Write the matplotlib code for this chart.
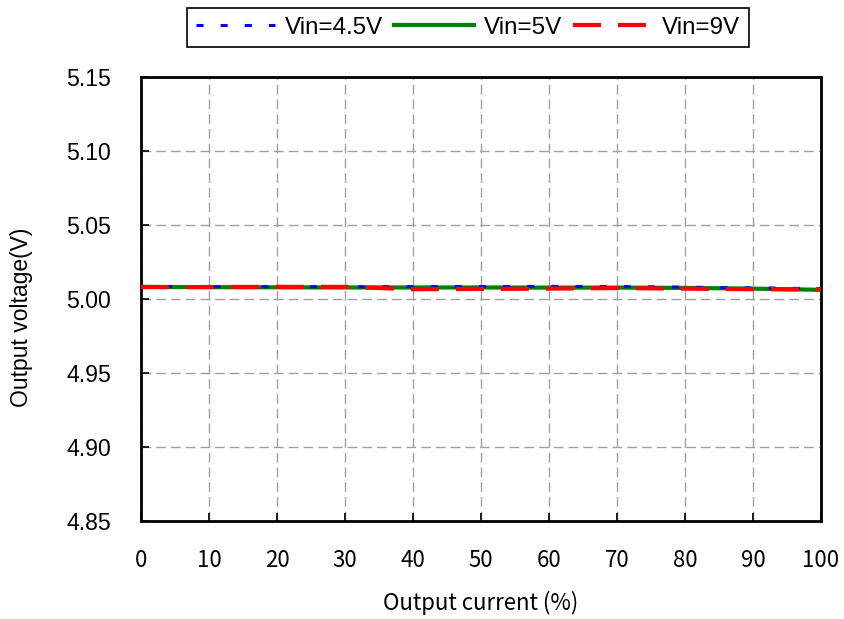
import matplotlib
matplotlib.use("Agg")
import matplotlib.pyplot as plt

gothic = ["Noto Sans CJK JP", "DejaVu Sans"]

current = [0, 10, 20, 30, 40, 50, 60, 70, 80, 90, 100]
v45 = [5.0083, 5.0083, 5.0083, 5.0082, 5.0083, 5.0084, 5.0085, 5.0084, 5.0080, 5.0075, 5.0070]
v5 = [5.0082, 5.0080, 5.0079, 5.0078, 5.0078, 5.0078, 5.0077, 5.0077, 5.0075, 5.0070, 5.0062]
v9 = [5.0080, 5.0081, 5.0082, 5.0082, 5.0066, 5.0068, 5.0070, 5.0074, 5.0070, 5.0066, 5.0065]

xticks = [0, 10, 20, 30, 40, 50, 60, 70, 80, 90, 100]
yticks = [4.85, 4.90, 4.95, 5.00, 5.05, 5.10, 5.15]

fig = plt.figure(figsize=(8.45, 6.19), dpi=100)
ax = fig.add_axes([141/845, 1-521/619, 680/845, 444/619])

ax.plot(current, v5, color="#008000", lw=3, linestyle="-", label="Vin=5V", zorder=2)
ax.plot(current, v45, color="#0000ff", lw=2.2, linestyle=(0, (2.3, 5.6)), label="Vin=4.5V", zorder=3)
ax.plot(current, v9, color="#ff0000", lw=3, linestyle=(0, (6.7, 4.1)), label="Vin=9V", zorder=4)

ax.set_xlim(0, 100)
ax.set_ylim(4.85, 5.15)
ax.set_xticks(xticks)
ax.set_yticks(yticks)
ax.set_yticklabels([f"{v:.2f}" for v in yticks], fontfamily="Liberation Sans", fontsize=16.6)
ax.set_xticklabels([str(v) for v in xticks], fontfamily=gothic, fontsize=16)
ax.tick_params(axis="both", direction="in", length=6, width=1.2, colors="black")
ax.tick_params(axis="y", pad=21.5)
ax.tick_params(axis="x", pad=20)
ax.grid(True, color="#a0a0a0", linestyle=(0, (7, 3.6)), linewidth=1)
for s in ax.spines.values():
    s.set_linewidth(2)
    s.set_color("black")

ax.set_ylabel("Output voltage(V)", fontfamily="Liberation Sans", fontsize=16.5)
ax.yaxis.label.set(va="center", ha="center")
ax.yaxis.set_label_coords((22-141)/680, (521-317)/444)
ax.set_xlabel("Output current (%)", fontfamily=gothic, fontsize=16)
ax.xaxis.label.set(va="center", ha="center")
ax.xaxis.set_label_coords(0.5, (521-603)/444)

h, l = ax.get_legend_handles_labels()
order = [1, 0, 2]
leg = fig.legend([h[i] for i in order], [l[i] for i in order], loc="center",
                 bbox_to_anchor=(468/845, 1-27.7/619),
                 ncol=3, frameon=True, fancybox=False, edgecolor="black", framealpha=1,
                 prop={"family": "Liberation Sans", "size": 17.4}, handlelength=3.3,
                 handletextpad=0.4, columnspacing=0.45, borderpad=0.35, borderaxespad=0)
leg.get_frame().set_linewidth(1.2)

fig.savefig("out.png", dpi=100)
